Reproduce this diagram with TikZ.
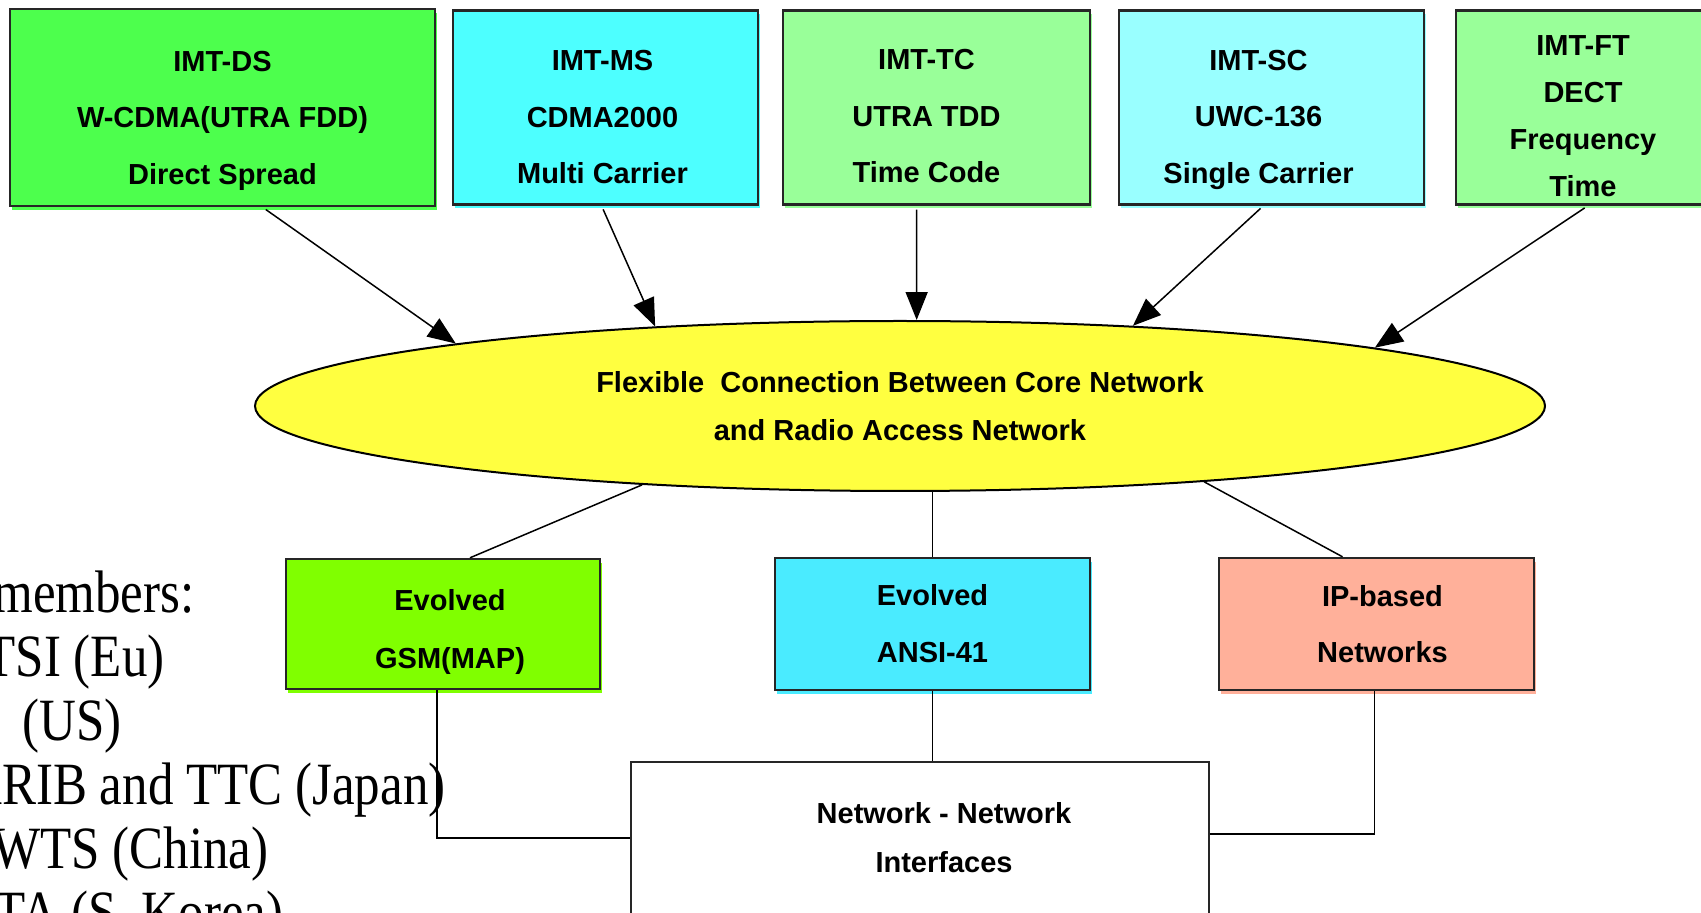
\documentclass[tikz,border=0pt]{standalone}
\usepackage{fontspec}
\setmainfont{Liberation Sans}
\newfontfamily\slidefont[FakeStretch=0.85]{Liberation Serif}
\usetikzlibrary{shapes, arrows.meta, positioning}

\definecolor{dsgreen}{HTML}{4DFF4D}
\definecolor{mscyan}{HTML}{4DFFFF}
\definecolor{tcgreen}{HTML}{99FF99}
\definecolor{sccyan}{HTML}{99FFFF}
\definecolor{coreyellow}{HTML}{FFFF40}
\definecolor{gsmgreen}{HTML}{80FF00}
\definecolor{ansicyan}{HTML}{4AEBFF}
\definecolor{ipsalmon}{HTML}{FFB09A}

\tikzset{
	techbox/.style={draw=black!85, line width=1.2pt, fill=#1,
		preaction={fill=#1, transform canvas={shift={(1pt,-2pt)}}},
		minimum width=152.5pt, minimum height=97pt, inner sep=0pt},
	boxtext/.style={align=center, inner sep=0pt,
		font=\bfseries\fontsize{14.5pt}{28.25pt}\selectfont},
	corebox/.style={ellipse, draw=black, line width=1pt, fill=coreyellow,
		minimum width=645pt, minimum height=85pt, align=center,
		font=\bfseries\fontsize{14.5pt}{24pt}\selectfont},
	netbox/.style={techbox=#1, minimum width=157.5pt, minimum height=66pt},
	toflex/.style={-{Triangle[length=14pt,width=11pt]}, line width=0.75pt, shorten <=2pt},
	link/.style={line width=0.75pt},
	member/.style={inner sep=0pt, anchor=base east, font=\slidefont\fontsize{30pt}{32pt}\selectfont}
}

\begin{document}
\begin{tikzpicture}[x=0.5pt, y=-0.5pt, on grid]
	\useasboundingbox (0,0) rectangle (1701,913);

	% radio access technologies
	\node[techbox=dsgreen, minimum width=212.5pt, minimum height=98.5pt,
		label={[boxtext, yshift=-6.5pt]center:{IMT-DS\\W-CDMA(UTRA FDD)\\Direct Spread}}]
		(ds) at (222.5,107.5) {};
	\node[techbox=mscyan,
		label={[boxtext, xshift=-1.5pt, yshift=-5pt]center:{IMT-MS\\CDMA2000\\Multi Carrier}}]
		(ms) [right=191.5pt of ds] {};
	\node[techbox=tcgreen, minimum width=153.5pt,
		label={[boxtext, xshift=-5pt, yshift=-4.5pt]center:{IMT-TC\\UTRA TDD\\Time Code}}]
		(tc) [right=165.5pt of ms] {};
	\node[techbox=sccyan,
		label={[boxtext, xshift=-6.5pt, yshift=-6pt]center:{IMT-SC\\UWC-136\\Single Carrier}}]
		(sc) [right=167.5pt of tc] {};
	\node[techbox=tcgreen, minimum width=127pt,
		label={[boxtext, yshift=-4.5pt, font=\bfseries\fontsize{14.5pt}{23.5pt}\selectfont]center:{IMT-FT\\DECT\\Frequency\\Time}}]
		(ft) [right=155.75pt of sc] {};

	\node[corebox] (flex) at (900,406)
		{Flexible~ Connection Between Core Network\\and Radio Access Network};

	% core networks
	\node[netbox=ansicyan,
		label={[boxtext, font=\bfseries\fontsize{14.5pt}{28.5pt}\selectfont]center:{Evolved\\ANSI-41}}]
		(ansi) at (932.5,624) {};
	\node[netbox=gsmgreen, minimum width=157pt, minimum height=65pt,
		label={[boxtext, xshift=3.5pt, yshift=-4pt, font=\bfseries\fontsize{14.5pt}{29pt}\selectfont]center:{Evolved\\GSM(MAP)}}]
		(gsm) [left=244.75pt of ansi] {};
	\node[netbox=ipsalmon,
		label={[boxtext, xshift=3pt, font=\bfseries\fontsize{14.5pt}{28pt}\selectfont]center:{IP-based\\Networks}}]
		(ip) [right=222pt of ansi] {};

	\node[draw=black!85, line width=1pt, minimum width=289pt, minimum height=76.5pt,
		label={[boxtext, xshift=12pt, font=\bfseries\fontsize{14.5pt}{24.5pt}\selectfont]center:{Network - Network\\Interfaces}}]
		(nni) at (920,838) {};

	\path[toflex]
		([xshift=20pt]ds.south) edge (flex.172)
		([xshift=-2pt]ms.south) edge (flex.162)
		([xshift=-10pt]tc.south) edge (flex.79)
		([xshift=-4pt]sc.south) edge (flex.19)
		([xshift=2.5pt]ft.south) edge (flex.7);

	\draw[link] (flex.197) -- ([xshift=13.5pt]gsm.north);
	\draw[link] (flex.south -| ansi.north) -- (ansi.north);
	\draw[link] (flex.346) -- ([xshift=-17pt]ip.north);
	\draw[link] ([xshift=-3pt]gsm.south) |- (nni.west);
	\draw[link] (ansi.south) -- (ansi.south |- nni.north);
	\draw[link] ([xshift=-1pt]ip.south) |- ([yshift=2pt]nni.east);

	% slide text behind the picture
	\node[member] (head) at (195,613) {3GPP members:};
	\node[member] (etsi) at (165,676) {ETSI (Eu)};
	\node[member] (tone) at (122,740) {T1\ \ (US)};
	\node[member] (arib) at (446,804) {ARIB and TTC (Japan)};
	\node[member] (cwts) at (269,868) {CWTS (China)};
	\node[member] (tta) at (284,932) {TTA (S. Korea)};
\end{tikzpicture}
\end{document}
